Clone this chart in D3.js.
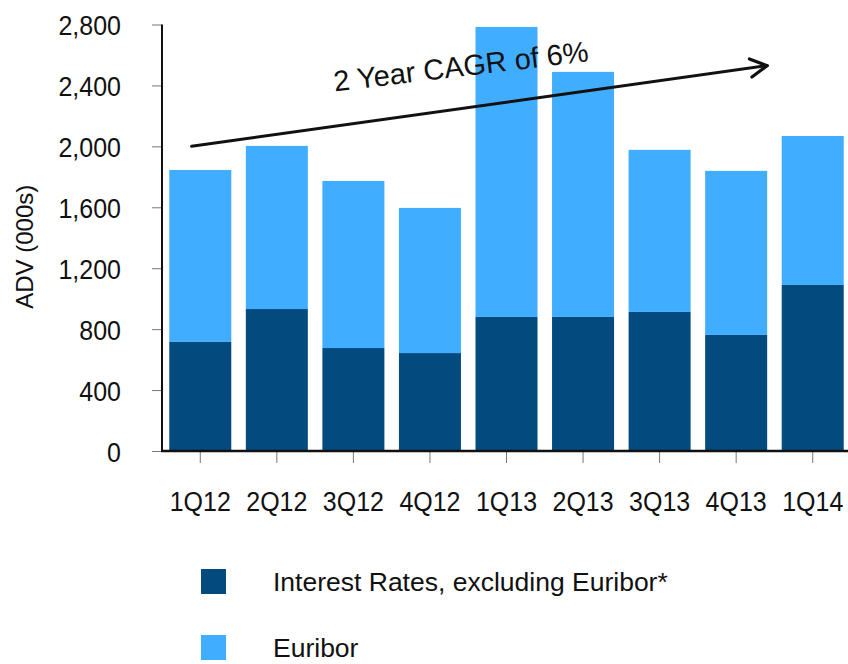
<!DOCTYPE html>
<html>
<head>
<meta charset="utf-8">
<script src="https://cdn.jsdelivr.net/npm/d3@7"></script>
<style>
  html, body { margin: 0; padding: 0; background: #fff; }
  svg { display: block; font-family: "Liberation Sans", Arial, sans-serif; }
</style>
</head>
<body>
<svg id="chart" width="848" height="664"></svg>
<script>
// Quarterly average daily volume (000s), stacked by product group
const categories = ["1Q12", "2Q12", "3Q12", "4Q12", "1Q13", "2Q13", "3Q13", "4Q13", "1Q14"];
const ratesExEuribor = [716, 932, 676, 643, 880, 880, 913, 762, 1090];
const euribor = [1129, 1071, 1097, 953, 1904, 1609, 1064, 1077, 978];
const yTicks = [0, 400, 800, 1200, 1600, 2000, 2400, 2800];
const seriesNames = ["Interest Rates, excluding Euribor*", "Euribor"];
const seriesColors = ["#034a7f", "#41adfe"];
// Trend annotation: value at the start and at the end of the arrow
const trendValues = [2000, 2530];
const trendLabel = "2 Year CAGR of 6%";
const axisTitle = "ADV (000s)";

const FONT = "Liberation Sans, Arial, sans-serif";
const TALL = 1.12; // tick labels are drawn slightly taller than wide

const svg = d3.select("#chart");

const x = d3.scaleBand()
  .domain(categories)
  .range([162, 851])
  .paddingInner(0.19)
  .paddingOuter(0.095);

const y = d3.scaleLinear()
  .domain([0, 2800])
  .range([451, 24.5]);

const rows = categories.map((c, i) => ({ cat: c, rates: ratesExEuribor[i], euribor: euribor[i] }));
const stacked = d3.stack().keys(["rates", "euribor"])(rows);

// Bars
svg.append("g").selectAll("g")
  .data(stacked)
  .join("g")
  .attr("fill", (d, i) => seriesColors[i])
  .selectAll("rect")
  .data(d => d)
  .join("rect")
  .attr("x", d => x(d.data.cat))
  .attr("width", x.bandwidth())
  .attr("y", d => y(d[1]))
  .attr("height", d => y(d[0]) - y(d[1]));

// Y axis
const yAxis = svg.append("g")
  .attr("transform", "translate(162,0)")
  .call(d3.axisLeft(y).tickValues(yTicks).tickSize(10)
    .tickFormat(d3.format(",")));
yAxis.select(".domain").remove();
yAxis.selectAll(".tick line").attr("stroke", "#777").attr("stroke-width", 1);
yAxis.selectAll(".tick text")
  .attr("x", -41)
  .attr("y", 10 / TALL)
  .attr("dy", null)
  .attr("transform", `scale(1,${TALL})`)
  .attr("font-size", 25).attr("fill", "#111")
  .attr("font-family", FONT);
svg.append("line")
  .attr("x1", 162).attr("x2", 162)
  .attr("y1", y(2800)).attr("y2", y(0) + 1)
  .attr("stroke", "#111").attr("stroke-width", 2);

// X axis
const xAxis = svg.append("g")
  .attr("transform", `translate(0,${y(0)})`)
  .call(d3.axisBottom(x).tickSize(12));
xAxis.select(".domain").remove();
xAxis.selectAll(".tick line").attr("stroke", "#777").attr("stroke-width", 1);
xAxis.selectAll(".tick text")
  .attr("y", 60.5 / TALL)
  .attr("dy", null)
  .attr("transform", `scale(1,${TALL})`)
  .attr("font-size", 25).attr("fill", "#111")
  .attr("font-family", FONT);
svg.append("line")
  .attr("x1", 161).attr("x2", 848)
  .attr("y1", y(0)).attr("y2", y(0))
  .attr("stroke", "#111").attr("stroke-width", 2.5);

// Axis title
svg.append("text")
  .attr("transform", `translate(33,${(y(0) + y(2800)) / 2 + 9}) rotate(-90)`)
  .attr("text-anchor", "middle")
  .attr("font-size", 24)
  .attr("fill", "#111")
  .text(axisTitle);

// Trend arrow
const ax1 = x(categories[0]) + x.bandwidth() * 0.36;
const ay1 = y(trendValues[0]);
const ax2 = x(categories[7]) + x.bandwidth();
const ay2 = y(trendValues[1]);
const ang = Math.atan2(ay2 - ay1, ax2 - ax1);
svg.append("line")
  .attr("x1", ax1).attr("y1", ay1)
  .attr("x2", ax2).attr("y2", ay2)
  .attr("stroke", "#111").attr("stroke-width", 3).attr("stroke-linecap", "round");
const headLen = 19, headAng = 0.5;
svg.append("path")
  .attr("d", d3.line()([
    [ax2 - headLen * Math.cos(ang - headAng), ay2 - headLen * Math.sin(ang - headAng)],
    [ax2, ay2],
    [ax2 - headLen * Math.cos(ang + headAng), ay2 - headLen * Math.sin(ang + headAng)]
  ]))
  .attr("fill", "none").attr("stroke", "#111").attr("stroke-width", 3.2)
  .attr("stroke-linecap", "round").attr("stroke-linejoin", "round");

// Trend label, following the arrow slope
const lx = x(categories[2]) + x.bandwidth() * 0.2;
const ly = y(trendValues[0] + (trendValues[1] - trendValues[0]) * 0.68);
svg.append("text")
  .attr("transform", `translate(${lx},${ly}) rotate(-6.8)`)
  .attr("font-size", 29)
  .attr("fill", "#111")
  .text(trendLabel);

// Legend
const legend = svg.append("g").selectAll("g")
  .data(seriesNames)
  .join("g")
  .attr("transform", (d, i) => `translate(201,${569 + i * 66})`);
legend.append("rect")
  .attr("width", 25).attr("height", 25)
  .attr("fill", (d, i) => seriesColors[i]);
legend.append("text")
  .attr("x", 72).attr("y", 12.5)
  .attr("dy", "0.36em")
  .attr("font-size", 26.5)
  .attr("fill", "#111")
  .text(d => d);
</script>
</body>
</html>
